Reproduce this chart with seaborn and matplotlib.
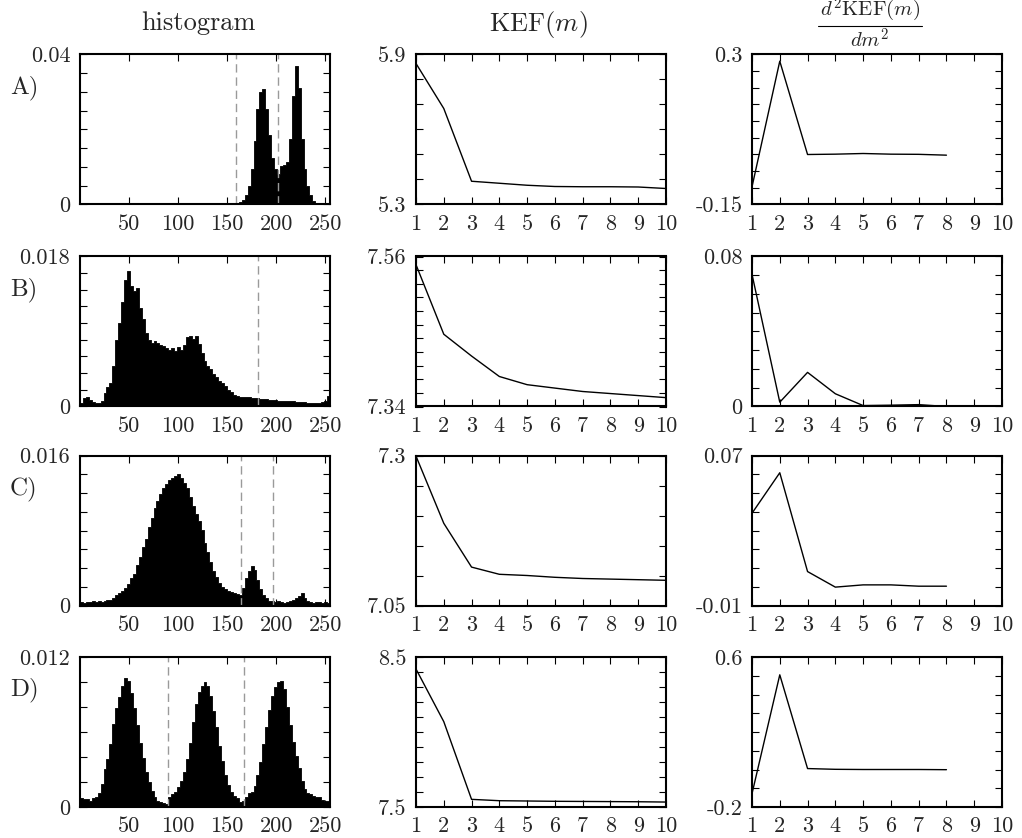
import numpy as np
import pandas as pd
import seaborn as sns
import matplotlib
matplotlib.use("Agg")
import matplotlib.pyplot as plt
from matplotlib.lines import Line2D

# ---------------------------------------------------------------------------
# Data
# ---------------------------------------------------------------------------
row_names = ["A)", "B)", "C)", "D)"]
bin_width = 3
bin_edges = list(range(0, 256, bin_width))          # 0, 3, ..., 255

hist_A = [
    0, 0, 0, 0, 0, 0, 0, 0, 0, 0, 0, 0, 0, 0, 0, 0, 0, 0, 0, 0,
    0, 0, 0, 0, 0, 0, 0, 0, 0.0002, 0.0002, 0.0002, 0.0002, 0.0002, 0.0002,
    0.0002, 0.0002, 0.0002, 0.0002, 0.0002, 0.0001, 0.0001, 0.0001, 0.0001,
    0.0001, 0.0001, 0.0001, 0.0001, 0.0001, 0.0001, 0.0002,
    0.0002, 0.0002, 0.0003, 0.0004, 0.0006, 0.0012, 0.0025, 0.0050, 0.0095,
    0.0170, 0.0255, 0.0300, 0.0308, 0.0255, 0.0185, 0.0125, 0.0095, 0.0082,
    0.0102, 0.0105, 0.0112, 0.0175, 0.0290, 0.0368, 0.0310, 0.0175, 0.0095,
    0.0050, 0.0025, 0.0010, 0.0004, 0.0002, 0.0001, 0, 0,
]
hist_B = [
    0.0004, 0.0010, 0.0011, 0.0008, 0.0005, 0.0004, 0.0004, 0.0006, 0.0016,
    0.0023, 0.0028, 0.0048, 0.0080, 0.0100, 0.0125, 0.0152, 0.0162, 0.0145,
    0.0138, 0.0142, 0.0118, 0.0105, 0.0088, 0.0080, 0.0076, 0.0079, 0.0076,
    0.0074, 0.0072, 0.0070, 0.0068, 0.0070, 0.0066, 0.0071, 0.0068, 0.0074,
    0.0083, 0.0084, 0.0081, 0.0084, 0.0075, 0.0064, 0.0055, 0.0049, 0.0045,
    0.0039, 0.0035, 0.0031, 0.0028, 0.0024, 0.0020, 0.0017, 0.0014, 0.0013,
    0.0012, 0.0011, 0.0011, 0.0011, 0.0010, 0.0010, 0.0010, 0.0009, 0.0009,
    0.0009, 0.0008, 0.0008, 0.0008, 0.0007, 0.0007, 0.0007, 0.0006, 0.0006,
    0.0006, 0.0005, 0.0005, 0.0005, 0.0005, 0.0004, 0.0004, 0.0004, 0.0004,
    0.0004, 0.0005, 0.0007, 0.0013,
]
hist_C = [
    0.0004, 0.0003, 0.0004, 0.0004, 0.0005, 0.0004, 0.0005, 0.0004, 0.0005,
    0.0006, 0.0006, 0.0008, 0.0011, 0.0013, 0.0015, 0.0019, 0.0023, 0.0029,
    0.0034, 0.0043, 0.0052, 0.0062, 0.0071, 0.0084, 0.0093, 0.0104, 0.0111,
    0.0119, 0.0125, 0.0130, 0.0134, 0.0136, 0.0138, 0.0140, 0.0136, 0.0131,
    0.0125, 0.0116, 0.0106, 0.0098, 0.0090, 0.0080, 0.0067, 0.0057, 0.0046,
    0.0037, 0.0030, 0.0024, 0.0020, 0.0018, 0.0016, 0.0014, 0.0013, 0.0012,
    0.0011, 0.0019, 0.0029, 0.0037, 0.0042, 0.0038, 0.0027, 0.0018, 0.0011,
    0.0008, 0.0005, 0.0005, 0.0004, 0.0005, 0.0004, 0.0003, 0.0004, 0.0005,
    0.0006, 0.0008, 0.0010, 0.0013, 0.0008, 0.0005, 0.0004, 0.0003, 0.0004,
    0.0004, 0.0003, 0.0004, 0.0003,
]
hist_D = [
    0.0007, 0.0006, 0.0006, 0.0005, 0.0007, 0.0008, 0.0011, 0.0018, 0.0030,
    0.0038, 0.0050, 0.0066, 0.0079, 0.0088, 0.0097, 0.0103, 0.0101, 0.0091,
    0.0079, 0.0066, 0.0051, 0.0039, 0.0028, 0.0020, 0.0013, 0.0008, 0.0005,
    0.0004, 0.0003, 0.0002, 0.0008, 0.0010, 0.0012, 0.0016, 0.0021, 0.0028,
    0.0038, 0.0051, 0.0068, 0.0082, 0.0092, 0.0097, 0.0100, 0.0097, 0.0089,
    0.0077, 0.0064, 0.0049, 0.0037, 0.0026, 0.0018, 0.0012, 0.0009, 0.0007,
    0.0004, 0.0005, 0.0008, 0.0011, 0.0012, 0.0017, 0.0026, 0.0036, 0.0050,
    0.0064, 0.0078, 0.0089, 0.0096, 0.0100, 0.0101, 0.0094, 0.0080, 0.0066,
    0.0052, 0.0041, 0.0031, 0.0021, 0.0014, 0.0011, 0.0010, 0.0009, 0.0008,
    0.0008, 0.0006, 0.0005, 0.0005,
]
histograms = [hist_A, hist_B, hist_C, hist_D]

# selected thresholds shown as dashed lines
thresholds = [[159, 202], [182], [164, 197], [90, 167]]

m_values = list(range(1, 11))
kef_A = [5.864, 5.684, 5.393, 5.385, 5.377, 5.372, 5.371, 5.371, 5.370, 5.364]
kef_B = [7.548, 7.446, 7.414, 7.384, 7.372, 7.367, 7.362, 7.359, 7.356, 7.353]
kef_C = [7.299, 7.187, 7.114, 7.102, 7.100, 7.097, 7.095, 7.094, 7.093, 7.092]
kef_D = [8.420, 8.069, 7.551, 7.542, 7.540, 7.538, 7.537, 7.536, 7.535, 7.533]
kef_curves = [kef_A, kef_B, kef_C, kef_D]

m_second = list(range(1, 9))
d2_A = [-0.097, 0.280, 0.000, 0.001, 0.003, 0.001, 0.0005, -0.002]
d2_B = [0.0705, 0.0023, 0.0182, 0.0068, 0.0005, 0.0007, 0.0010, 0.0000]
d2_C = [0.0392, 0.0608, 0.0081, -0.0002, 0.0010, 0.0010, 0.0003, 0.0003]
d2_D = [-0.129, 0.505, 0.005, 0.001, 0.000, 0.000, 0.000, -0.001]
d2_curves = [d2_A, d2_B, d2_C, d2_D]

# axis ranges: (low, high, tick step, low label, high label)
hist_ranges = [(0, 0.04, 0.005, "0", "0.04"), (0, 0.018, 0.002, "0", "0.018"),
               (0, 0.016, 0.002, "0", "0.016"), (0, 0.012, 0.002, "0", "0.012")]
kef_ranges = [(5.3, 5.9, 0.1, "5.3", "5.9"), (7.34, 7.56, 0.02, "7.34", "7.56"),
              (7.05, 7.3, 0.05, "7.05", "7.3"), (7.5, 8.5, 0.1, "7.5", "8.5")]
d2_ranges = [(-0.15, 0.3, 0.05, "-0.15", "0.3"), (0, 0.08, 0.01, "0", "0.08"),
             (-0.01, 0.07, 0.01, "-0.01", "0.07"), (-0.2, 0.6, 0.1, "-0.2", "0.6")]

hist_xticks = [50, 100, 150, 200, 250]
title_hist = "histogram"
title_kef = r"KEF$(m)$"
title_d2_num = r"$d^2\mathrm{KEF}(m)$"
title_d2_den = r"$dm^2$"

# ---------------------------------------------------------------------------
# Style
# ---------------------------------------------------------------------------
sns.set_style("white")
plt.rcParams.update({
    "font.family": ["cmr10", "DejaVu Serif"],
    "mathtext.fontset": "cm",
    "axes.unicode_minus": False,
    "axes.formatter.use_mathtext": True,
    "axes.edgecolor": "black",
    "axes.linewidth": 1.5,
    "xtick.bottom": True,
    "ytick.left": True,
})

W, H = 1022, 838
fig = plt.figure(figsize=(W / 100, H / 100), dpi=100)
fig.patch.set_facecolor("white")

col_left = [80, 416, 752]
row_top = [54.5, 256.5, 455.5, 657]
ax_w, ax_h = 250, 150
TICK_FS = 16
LABEL_FS = 18


def fx(px):
    return px / W


def fy(py):
    return 1 - py / H


def make_axes(left, top):
    return fig.add_axes([left / W, 1 - (top + ax_h) / H, ax_w / W, ax_h / H])


def style_axes(ax, yr, xlim, xticks, xlabels):
    lo, hi, step, lo_lab, hi_lab = yr
    n = int(round((hi - lo) / step))
    yt = np.linspace(lo, hi, n + 1)
    ylabels = [""] * len(yt)
    ylabels[0], ylabels[-1] = lo_lab, hi_lab
    ax.set_ylim(lo, hi)
    ax.set_yticks(yt)
    ax.set_yticklabels(ylabels)
    ax.set_xlim(*xlim)
    ax.set_xticks(xticks)
    ax.set_xticklabels(xlabels)
    ax.tick_params(direction="in", length=5, width=0.8,
                   top=True, bottom=True, left=True, right=True,
                   labelsize=TICK_FS, color="black")
    ax.tick_params(axis="y", pad=7)
    ax.tick_params(axis="x", pad=7)
    ax.set_xlabel("")
    ax.set_ylabel("")
    for sp in ax.spines.values():
        sp.set_visible(True)
        sp.set_linewidth(1.5)
        sp.set_zorder(5)


for r in range(4):
    # histogram column
    ax = make_axes(col_left[0], row_top[r])
    centers = [e + bin_width / 2 for e in bin_edges[:-1]]
    df = pd.DataFrame({"level": centers, "freq": histograms[r]})
    sns.histplot(data=df, x="level", weights="freq", bins=bin_edges,
                 element="step", fill=True, color="black", alpha=1.0,
                 linewidth=0.6, edgecolor="black", ax=ax)
    for t in thresholds[r]:
        ax.axvline(t, color="#9a9a9a", linewidth=1.0, dashes=(6, 3.5), zorder=4)
    style_axes(ax, hist_ranges[r], (0, 255), hist_xticks,
               [str(v) for v in hist_xticks])

    # KEF column
    ax = make_axes(col_left[1], row_top[r])
    sns.lineplot(x=m_values, y=kef_curves[r], color="black", linewidth=1.0, ax=ax)
    style_axes(ax, kef_ranges[r], (1, 10), m_values, [str(v) for v in m_values])

    # second-derivative column
    ax = make_axes(col_left[2], row_top[r])
    sns.lineplot(x=m_second, y=d2_curves[r], color="black", linewidth=1.0, ax=ax)
    style_axes(ax, d2_ranges[r], (1, 10), m_values, [str(v) for v in m_values])

    fig.text(fx(10), fy(row_top[r] + 33), row_names[r], fontsize=LABEL_FS,
             ha="left", va="center")

# column headings
fig.text(fx(198), fy(23), title_hist, fontsize=19, ha="center", va="center")
fig.text(fx(538), fy(25), title_kef, fontsize=19, ha="center", va="center")

# stacked fraction heading for the second derivative
frac_x, bar_y = 870, 26
fig.text(fx(frac_x), fy(bar_y - 2), title_d2_num, fontsize=15,
         ha="center", va="bottom")
fig.text(fx(frac_x), fy(bar_y + 2), title_d2_den, fontsize=15,
         ha="center", va="top")
fig.add_artist(Line2D([fx(818), fx(922)], [fy(bar_y), fy(bar_y)],
                      color="black", linewidth=0.8, transform=fig.transFigure))

fig.savefig("out.png", dpi=100, facecolor="white")
